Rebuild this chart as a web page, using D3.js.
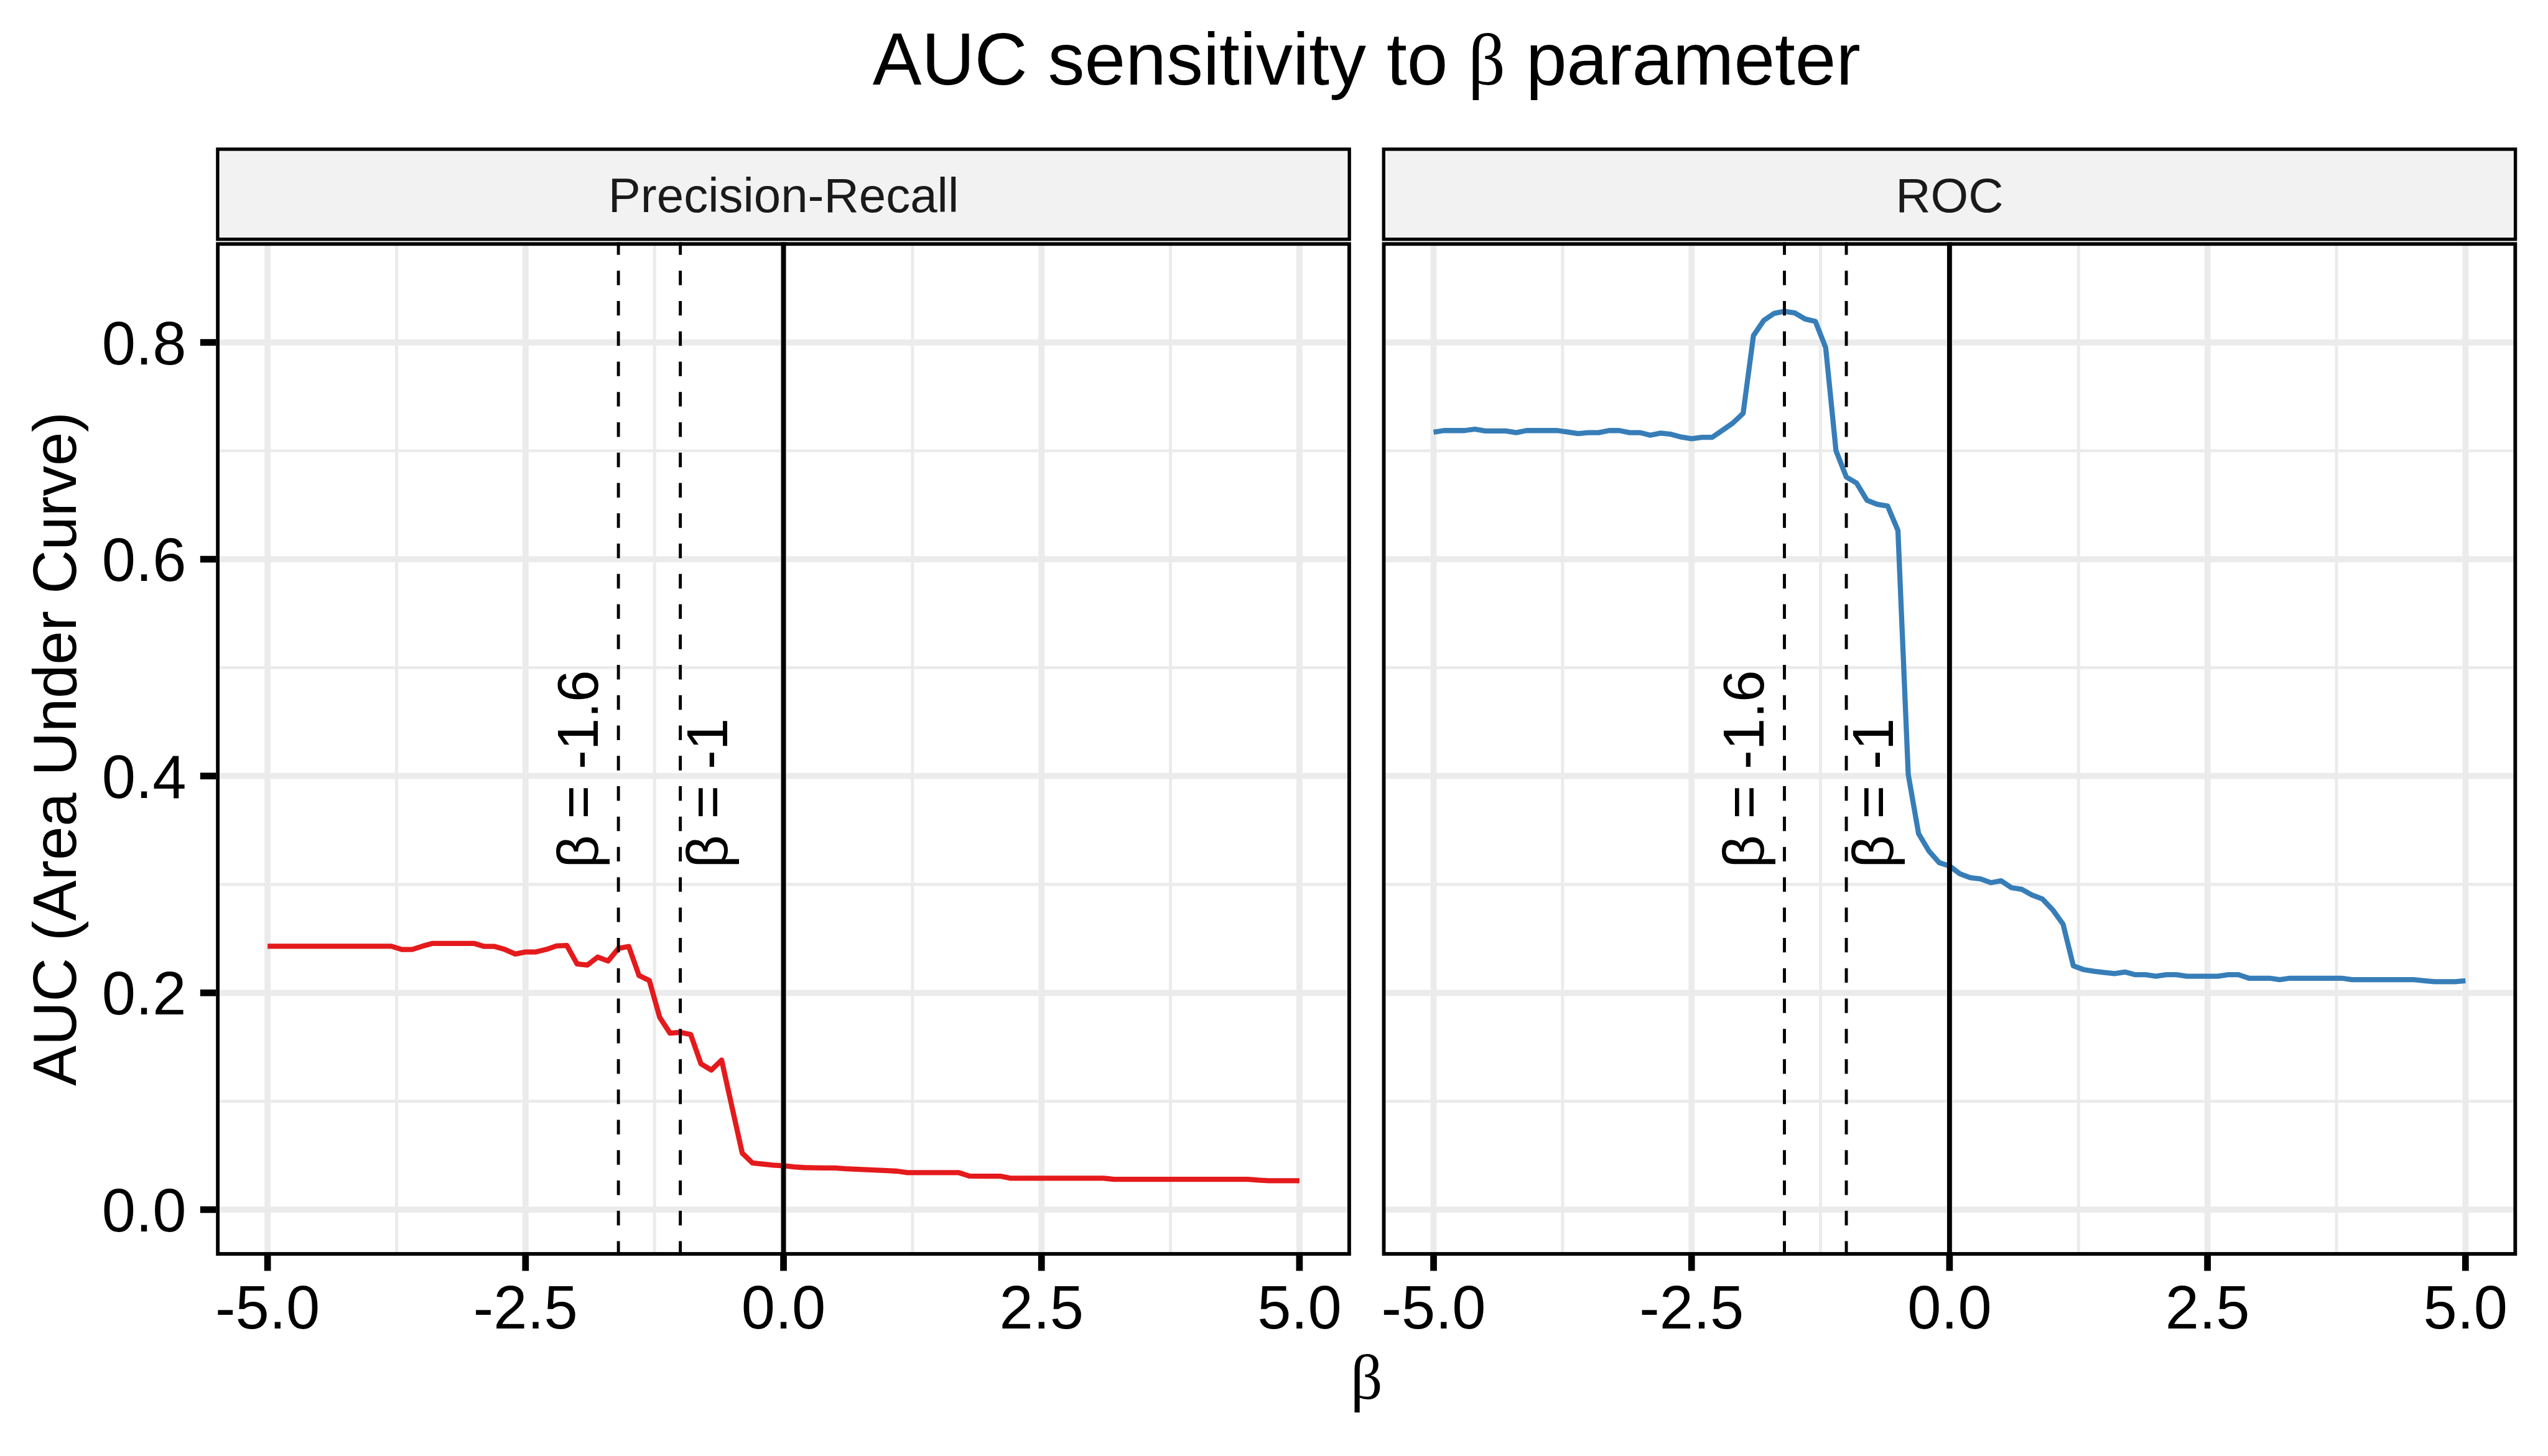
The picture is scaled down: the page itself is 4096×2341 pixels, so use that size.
<!DOCTYPE html>
<html>
<head>
<meta charset="utf-8">
<script src="https://cdn.jsdelivr.net/npm/d3@7"></script>
<style>
  html, body { margin: 0; padding: 0; background: #fff; }
  svg { display: block; }
</style>
</head>
<body>
<script>
// ---------------- data ----------------
const panels = ["Precision-Recall", "ROC"];
const seriesColors = ["#E41A1C", "#377EB8"];

const betaValues = [
  -5.0,-4.9,-4.8,-4.7,-4.6,-4.5,-4.4,-4.3,-4.2,-4.1,
  -4.0,-3.9,-3.8,-3.7,-3.6,-3.5,-3.4,-3.3,-3.2,-3.1,
  -3.0,-2.9,-2.8,-2.7,-2.6,-2.5,-2.4,-2.3,-2.2,-2.1,
  -2.0,-1.9,-1.8,-1.7,-1.6,-1.5,-1.4,-1.3,-1.2,-1.1,
  -1.0,-0.9,-0.8,-0.7,-0.6,-0.5,-0.4,-0.3,-0.2,-0.1,
  0.0,0.1,0.2,0.3,0.4,0.5,0.6,0.7,0.8,0.9,
  1.0,1.1,1.2,1.3,1.4,1.5,1.6,1.7,1.8,1.9,
  2.0,2.1,2.2,2.3,2.4,2.5,2.6,2.7,2.8,2.9,
  3.0,3.1,3.2,3.3,3.4,3.5,3.6,3.7,3.8,3.9,
  4.0,4.1,4.2,4.3,4.4,4.5,4.6,4.7,4.8,4.9,
  5.0
];

const aucPrecisionRecall = [
  0.243,0.243,0.243,0.243,0.243,0.243,0.243,0.243,0.243,0.243,
  0.243,0.243,0.243,0.240,0.240,0.243,0.2456,0.2456,0.2456,0.2456,
  0.2456,0.2428,0.2428,0.240,0.2358,0.2377,0.2377,0.240,0.2433,0.2437,
  0.2266,0.2257,0.233,0.2294,0.241,0.2428,0.2159,0.2113,0.1774,0.1628,
  0.1635,0.1616,0.1345,0.1288,0.138,0.095,0.0522,0.043,0.042,0.041,
  0.0405,0.0395,0.0388,0.0386,0.0385,0.0384,0.0377,0.0373,0.0369,0.0365,
  0.036,0.0355,0.0341,0.0341,0.0341,0.0341,0.0341,0.0341,0.031,0.0309,
  0.0309,0.0309,0.029,0.029,0.029,0.029,0.029,0.029,0.029,0.029,
  0.029,0.029,0.028,0.028,0.028,0.028,0.028,0.028,0.028,0.028,
  0.028,0.028,0.028,0.028,0.028,0.028,0.0272,0.0267,0.0267,0.0267,
  0.0267
];

const aucROC = [
  0.7172,0.7187,0.7187,0.7187,0.720,0.7183,0.7183,0.7183,0.7168,0.7187,
  0.7187,0.7187,0.7187,0.7173,0.7159,0.7168,0.7168,0.7187,0.7187,0.7168,
  0.7168,0.7144,0.7163,0.7153,0.7127,0.7112,0.7125,0.7125,0.719,0.7256,
  0.7346,0.8063,0.8203,0.8268,0.8287,0.8272,0.8216,0.8194,0.7951,0.700,
  0.6758,0.6702,0.6544,0.6506,0.6491,0.6266,0.4015,0.3469,0.3309,0.3201,
  0.317,0.3098,0.3063,0.3051,0.3016,0.3034,0.297,0.2955,0.2902,0.2866,
  0.2766,0.2634,0.2249,0.2214,0.2199,0.2188,0.2178,0.2192,0.2167,0.2167,
  0.2153,0.2167,0.2167,0.2153,0.2153,0.2153,0.2153,0.2167,0.2167,0.2135,
  0.2135,0.2135,0.2121,0.2135,0.2135,0.2135,0.2135,0.2135,0.2135,0.2121,
  0.2121,0.2121,0.2121,0.2121,0.2121,0.2121,0.2112,0.2103,0.2103,0.2103,
  0.2112
];

const xTicks = [-5, -2.5, 0, 2.5, 5];
const xTickLabels = ["-5.0", "-2.5", "0.0", "2.5", "5.0"];
const xMinor = [-3.75, -1.25, 1.25, 3.75];
const yTicks = [0, 0.2, 0.4, 0.6, 0.8];
const yTickLabels = ["0.0", "0.2", "0.4", "0.6", "0.8"];
const yMinor = [0.1, 0.3, 0.5, 0.7];

const dashedLines = [-1.6, -1];
const dashedLabels = ["β = -1.6", "β = -1"];
const dashedLabelY = 0.315;
const solidLine = [0];

const titleMain = "AUC sensitivity to ";
const titleEnd = " parameter";
const yTitle = "AUC (Area Under Curve)";

// ---------------- layout (reference pixels) ----------------
const W = 4200, H = 2400;
const svg = d3.select("body").append("svg")
  .attr("width", 4096).attr("height", 2341)
  .attr("viewBox", `0 0 ${W} ${H}`);

const sans = "'Liberation Sans', Arial, Helvetica, sans-serif";
const serif = "'Liberation Serif', 'DejaVu Serif', serif";

const panelTop = 399, panelBottom = 2070;
const panelLefts = [356, 2278];
const panelW = 1871;
const stripTop = 243, stripBottom = 397;

const y = d3.scaleLinear().domain([-0.0425, 0.8925]).range([panelBottom, panelTop]);

const seriesData = [aucPrecisionRecall, aucROC];

panels.forEach((name, pi) => {
  const x0 = panelLefts[pi];
  const x = d3.scaleLinear().domain([-5.5, 5.5]).range([x0, x0 + panelW]);
  const g = svg.append("g");

  // background
  g.append("rect").attr("x", x0).attr("y", panelTop).attr("width", panelW)
    .attr("height", panelBottom - panelTop).attr("fill", "#fff");

  const clipId = "clip" + pi;
  svg.append("clipPath").attr("id", clipId).append("rect")
    .attr("x", x0).attr("y", panelTop).attr("width", panelW).attr("height", panelBottom - panelTop);
  const inner = g.append("g").attr("clip-path", `url(#${clipId})`);

  // minor grid
  inner.selectAll(".ymin").data(yMinor).join("line")
    .attr("x1", x0).attr("x2", x0 + panelW)
    .attr("y1", d => y(d)).attr("y2", d => y(d))
    .attr("stroke", "#EBEBEB").attr("stroke-width", 5);
  inner.selectAll(".xmin").data(xMinor).join("line")
    .attr("y1", panelTop).attr("y2", panelBottom)
    .attr("x1", d => x(d)).attr("x2", d => x(d))
    .attr("stroke", "#EBEBEB").attr("stroke-width", 5);
  // major grid
  inner.selectAll(".ymaj").data(yTicks).join("line")
    .attr("x1", x0).attr("x2", x0 + panelW)
    .attr("y1", d => y(d)).attr("y2", d => y(d))
    .attr("stroke", "#EBEBEB").attr("stroke-width", 10);
  inner.selectAll(".xmaj").data(xTicks).join("line")
    .attr("y1", panelTop).attr("y2", panelBottom)
    .attr("x1", d => x(d)).attr("x2", d => x(d))
    .attr("stroke", "#EBEBEB").attr("stroke-width", 10);

  // data line
  const pts = betaValues.map((b, i) => [b, seriesData[pi][i]]);
  const line = d3.line().x(d => x(d[0])).y(d => y(d[1]));
  inner.append("path").datum(pts).attr("d", line)
    .attr("fill", "none").attr("stroke", seriesColors[pi])
    .attr("stroke-width", 8.5).attr("stroke-linejoin", "round");

  // dashed vertical lines
  inner.selectAll(".dash").data(dashedLines).join("line")
    .attr("x1", d => x(d)).attr("x2", d => x(d))
    .attr("y1", panelBottom).attr("y2", panelTop)
    .attr("stroke", "#000").attr("stroke-width", 5)
    .attr("stroke-dasharray", "24,26");
  // solid line at 0
  inner.selectAll(".solid").data(solidLine).join("line")
    .attr("x1", d => x(d)).attr("x2", d => x(d))
    .attr("y1", panelBottom).attr("y2", panelTop)
    .attr("stroke", "#000").attr("stroke-width", 8);

  // labels
  const labelOffsets = [-34, 77];
  dashedLines.forEach((v, k) => {
    const lx = x(v) + labelOffsets[k];
    const ly = y(dashedLabelY);
    inner.append("text")
      .attr("transform", `translate(${lx},${ly}) rotate(-90)`)
      .attr("text-anchor", "start")
      .attr("font-family", sans).attr("font-size", 95).attr("fill", "#000")
      .text(dashedLabels[k]);
  });

  // panel border
  g.append("rect").attr("x", x0 + 3).attr("y", panelTop + 3)
    .attr("width", panelW - 6).attr("height", panelBottom - panelTop - 6)
    .attr("fill", "none").attr("stroke", "#000").attr("stroke-width", 6);

  // strip
  g.append("rect").attr("x", x0 + 2.75).attr("y", stripTop + 2.75)
    .attr("width", panelW - 5.5).attr("height", stripBottom - stripTop - 5.5)
    .attr("fill", "#F2F2F2").attr("stroke", "#000").attr("stroke-width", 5.5);
  g.append("text").attr("x", x0 + panelW / 2).attr("y", 349)
    .attr("text-anchor", "middle").attr("font-family", sans)
    .attr("font-size", 80).attr("fill", "#1A1A1A").text(name);

  // x axis ticks
  g.selectAll(".xt").data(xTicks).join("line")
    .attr("x1", d => x(d)).attr("x2", d => x(d))
    .attr("y1", panelBottom).attr("y2", panelBottom + 25)
    .attr("stroke", "#000").attr("stroke-width", 11);
  g.selectAll(".xl").data(xTicks).join("text")
    .attr("x", d => x(d)).attr("y", 2190)
    .attr("text-anchor", "middle").attr("font-family", sans)
    .attr("font-size", 100).attr("fill", "#000")
    .text((d, i) => xTickLabels[i]);

  // y axis only on first panel
  if (pi === 0) {
    g.selectAll(".yt").data(yTicks).join("line")
      .attr("x1", x0 - 26).attr("x2", x0)
      .attr("y1", d => y(d)).attr("y2", d => y(d))
      .attr("stroke", "#000").attr("stroke-width", 11);
    g.selectAll(".yl").data(yTicks).join("text")
      .attr("x", 307).attr("y", d => y(d) + 36)
      .attr("text-anchor", "end").attr("font-family", sans)
      .attr("font-size", 100).attr("fill", "#000")
      .text((d, i) => yTickLabels[i]);
  }
});

// title
const cx = (panelLefts[0] + panelLefts[1] + panelW) / 2;
const title = svg.append("text").attr("x", cx).attr("y", 139)
  .attr("text-anchor", "middle").attr("font-family", sans)
  .attr("font-size", 121).attr("fill", "#000");
title.append("tspan").text(titleMain);
title.append("tspan").attr("font-family", serif).text("β");
title.append("tspan").text(titleEnd);

// x axis title
svg.append("text").attr("x", cx).attr("y", 2306)
  .attr("text-anchor", "middle").attr("font-family", serif)
  .attr("font-size", 104).attr("fill", "#000").text("β");

// y axis title
svg.append("text")
  .attr("transform", `translate(125,${(panelTop + panelBottom) / 2}) rotate(-90)`)
  .attr("text-anchor", "middle").attr("font-family", sans)
  .attr("font-size", 100).attr("fill", "#000").text(yTitle);
</script>
</body>
</html>
